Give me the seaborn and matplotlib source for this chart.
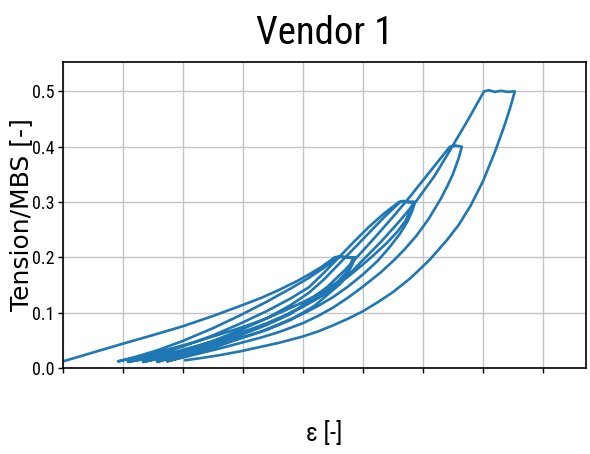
import matplotlib
matplotlib.use("Agg")
import matplotlib.pyplot as plt
import pandas as pd
import seaborn as sns
from matplotlib.patches import Rectangle

# Strain [%] and tension/MBS for every branch of the cyclic test, in test order.
# Loading branches end with the hold at the peak load.
load_1_eps = [0.0, 0.5, 1.0, 1.5, 2.0, 2.5, 2.95, 3.3, 3.6, 3.9, 4.1, 4.3, 4.53, 4.62, 4.72, 4.84]
load_1_t = [0.012, 0.028, 0.044, 0.0595, 0.0755, 0.094, 0.112, 0.1265, 0.141, 0.157, 0.169, 0.182,
            0.200, 0.202, 0.199, 0.200]
unload_1_eps = [4.79, 4.71, 4.59, 4.42, 4.2, 4.0, 3.7, 3.4, 3.1, 2.8, 2.5, 2.2, 1.9, 1.6, 1.3, 1.1, 0.917]
unload_1_t = [0.186, 0.171, 0.157, 0.143, 0.130, 0.119, 0.104, 0.090, 0.078, 0.067, 0.057, 0.047,
              0.038, 0.029, 0.021, 0.016, 0.012]

load_2_eps = [1.1, 1.3, 1.6, 2.0, 2.5, 2.95, 3.4, 3.8, 4.1, 4.35, 4.58, 4.68, 4.78, 4.87]
load_2_t = [0.017, 0.023, 0.033, 0.049, 0.072, 0.095, 0.120, 0.144, 0.163, 0.181, 0.200, 0.201,
            0.199, 0.200]
unload_2_eps = [4.82, 4.74, 4.62, 4.45, 4.25, 4.0, 3.7, 3.4, 3.1, 2.8, 2.5, 2.2, 1.9, 1.6, 1.35, 1.083]
unload_2_t = [0.186, 0.170, 0.155, 0.140, 0.126, 0.111, 0.095, 0.081, 0.069, 0.058, 0.048, 0.039,
              0.030, 0.022, 0.016, 0.011]

load_3_eps = [1.3, 1.6, 2.0, 2.5, 2.95, 3.4, 3.8, 4.1, 4.35, 4.6, 4.85, 5.1, 5.35, 5.6, 5.68, 5.76, 5.84]
load_3_t = [0.016, 0.025, 0.039, 0.059, 0.080, 0.103, 0.126, 0.146, 0.172, 0.200, 0.228, 0.255,
            0.279, 0.300, 0.302, 0.299, 0.300]
unload_3_eps = [5.79, 5.71, 5.58, 5.4, 5.2, 5.0, 4.75, 4.5, 4.25, 4.0, 3.6, 3.3, 2.95, 2.6, 2.3, 2.0,
                1.7, 1.333]
unload_3_t = [0.284, 0.266, 0.247, 0.226, 0.206, 0.187, 0.165, 0.145, 0.127, 0.111, 0.089, 0.075,
              0.061, 0.047, 0.037, 0.028, 0.019, 0.011]

load_4_eps = [1.6, 2.0, 2.5, 2.95, 3.4, 3.8, 4.1, 4.35, 4.6, 4.85, 5.1, 5.35, 5.62, 5.72, 5.87]
load_4_t = [0.018, 0.030, 0.049, 0.068, 0.090, 0.114, 0.136, 0.160, 0.188, 0.216, 0.244, 0.272,
            0.300, 0.301, 0.300]
unload_4_eps = [5.82, 5.74, 5.62, 5.45, 5.25, 5.0, 4.75, 4.5, 4.25, 4.0, 3.6, 3.3, 2.95, 2.6, 2.3,
                2.0, 1.8, 1.567]
unload_4_t = [0.283, 0.264, 0.243, 0.219, 0.194, 0.169, 0.147, 0.128, 0.112, 0.098, 0.079, 0.066,
              0.054, 0.042, 0.033, 0.024, 0.018, 0.011]

load_5_eps = [1.8, 2.1, 2.5, 2.95, 3.4, 3.8, 4.1, 4.4, 4.7, 5.0, 5.25, 5.5, 5.75, 5.95, 6.2, 6.45,
              6.55, 6.65]
load_5_t = [0.019, 0.029, 0.042, 0.059, 0.078, 0.098, 0.122, 0.146, 0.177, 0.212, 0.242, 0.273,
            0.305, 0.332, 0.366, 0.400, 0.402, 0.400]
unload_5_eps = [6.6, 6.5, 6.4, 6.3, 6.1, 5.9, 5.7, 5.53, 5.3, 5.0, 4.75, 4.5, 4.25, 4.0, 3.6, 3.3,
                2.95, 2.6, 2.3, 2.0, 1.733]
unload_5_t = [0.380, 0.350, 0.327, 0.306, 0.270, 0.240, 0.215, 0.196, 0.173, 0.147, 0.127, 0.109,
              0.094, 0.081, 0.065, 0.055, 0.045, 0.035, 0.027, 0.019, 0.012]

load_6_eps = [2.0, 2.4, 2.95, 3.4, 3.8, 4.2, 4.6, 5.0, 5.3, 5.6, 5.9, 6.2, 6.45, 6.75, 7.02, 7.1, 7.2,
              7.3, 7.42, 7.533]
load_6_t = [0.020, 0.033, 0.053, 0.069, 0.087, 0.113, 0.150, 0.195, 0.228, 0.264, 0.303, 0.348,
            0.393, 0.448, 0.500, 0.502, 0.499, 0.501, 0.499, 0.500]
unload_6_eps = [7.45, 7.35, 7.2, 7.0, 6.8, 6.6, 6.4, 6.117, 5.8, 5.5, 5.25, 5.0, 4.75, 4.5, 4.25, 4.0,
                3.6, 3.283, 2.95, 2.6, 2.3, 2.033]
unload_6_t = [0.468, 0.435, 0.390, 0.337, 0.294, 0.259, 0.231, 0.196, 0.163, 0.137, 0.119, 0.1025,
              0.089, 0.077, 0.066, 0.057, 0.0455, 0.038, 0.030, 0.023, 0.018, 0.014]

y_ticks = [0.0, 0.1, 0.2, 0.3, 0.4, 0.5]
x_ticks = [0, 1, 2, 3, 4, 5, 6, 7, 8]

branches = [
    (load_1_eps, load_1_t), (unload_1_eps, unload_1_t),
    (load_2_eps, load_2_t), (unload_2_eps, unload_2_t),
    (load_3_eps, load_3_t), (unload_3_eps, unload_3_t),
    (load_4_eps, load_4_t), (unload_4_eps, unload_4_t),
    (load_5_eps, load_5_t), (unload_5_eps, unload_5_t),
    (load_6_eps, load_6_t), (unload_6_eps, unload_6_t),
]
df = pd.concat(
    [pd.DataFrame({"eps": e, "tension": t}) for e, t in branches],
    ignore_index=True,
)

sns.set_theme(style="whitegrid")
plt.rcParams["font.family"] = ["DejaVu Sans"]
slim = ["Roboto Condensed", "Roboto", "DejaVu Sans"]

fig = plt.figure(figsize=(5.9, 4.54), dpi=100)
ax = fig.add_axes([0.1068, 0.1894, 0.8864, 0.674])

sns.lineplot(data=df, x="eps", y="tension", sort=False, estimator=None,
             color="#1f77b4", linewidth=1.9, ax=ax)

ax.set_xlim(0, 8.72)
ax.set_ylim(0, 0.553)
ax.set_xticks(x_ticks)
ax.set_yticks(y_ticks)
ax.tick_params(axis="x", bottom=True, labelbottom=False, length=3.5, width=1, color="black")
ax.tick_params(axis="y", left=True, length=3.5, width=1, color="black", pad=2.5,
               labelcolor="black")
for lbl in ax.get_yticklabels():
    lbl.set_family(slim)
    lbl.set_fontsize(13)
ax.grid(True, color="#c4c4c4", linewidth=1.0)
for s in ax.spines.values():
    s.set_color("black")
    s.set_linewidth(1.2)

ax.set_title("Vendor 1", fontsize=28, family=slim, pad=13, color="black")
ax.set_ylabel("Tension/MBS [-]", fontsize=18, color="black")
ax.yaxis.set_label_coords(-0.058, 0.5)
ax.set_xlabel("ε [-]", fontsize=18, family=slim, color="black")
ax.xaxis.set_label_coords(0.5, -0.172)

# blank strip below the axes frame (no tick labels on the strain axis)
fig.patches.append(Rectangle((0, 0.088), 1, 0.086, transform=fig.transFigure,
                             facecolor="white", edgecolor="none", zorder=10))

fig.savefig("out.png", dpi=100)
